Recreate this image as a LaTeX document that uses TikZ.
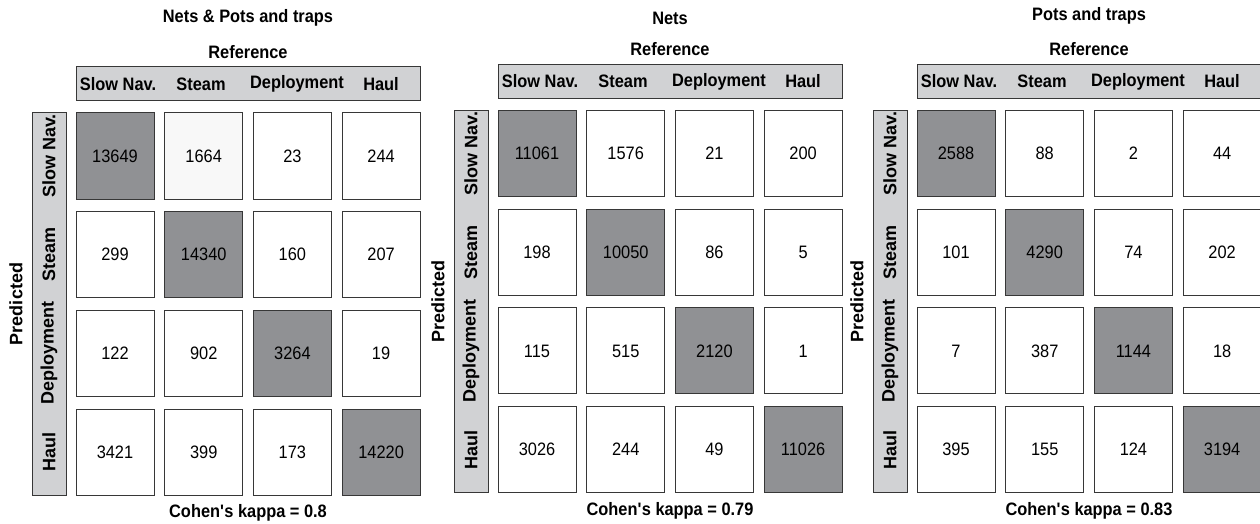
\documentclass[tikz,border=0pt]{standalone}
\usepackage{fontspec}
\setmainfont{Liberation Sans}[FakeStretch=0.91]
\newfontfamily\sidefont{Liberation Sans}
\usetikzlibrary{positioning}

\definecolor{bargrey}{RGB}{209,210,212}
\definecolor{diaggrey}{RGB}{144,145,148}
\definecolor{lightcell}{RGB}{248,248,248}
\definecolor{edgegrey}{RGB}{55,55,55}

\begin{document}
\begin{tikzpicture}[x=1pt,y=-1pt,
  cell/.style={draw=edgegrey,line width=1pt,minimum width=78pt,minimum height=86pt,
    inner sep=0pt,font=\fontsize{18}{18}\selectfont},
  bar/.style={draw=edgegrey,fill=bargrey,line width=1pt,inner sep=0pt},
  lbl/.style={font=\bfseries\fontsize{18}{18}\selectfont},
  sidelbl/.style={font=\sidefont\bfseries\fontsize{18}{18}\selectfont,rotate=90}]

\useasboundingbox (0,0) rectangle (1260,524);

% Nets & Pots and traps
\begin{scope}
  \node[lbl] (p1-title) at (248,18) {Nets \& Pots and traps};
  \node[lbl] (p1-ref) at (248,52) {Reference};
  \node[bar,minimum width=344pt,minimum height=34pt] (p1-head) at (248,84) {};
  \node[bar,minimum width=34pt,minimum height=382pt] (p1-side) at (49,304) {};
  \foreach \i/\x/\t in {0/118/Slow Nav.,1/201/Steam,2/297/Deployment,3/381/Haul}
  {
    \node[lbl] (p1-col\i) at (\x,84) {\t};
    \node[sidelbl] (p1-row\i) at (49,{156+\i*98.7}) {\t};
  }
  \foreach \i/\j/\v/\f in {0/0/13649/diaggrey,1/0/1664/lightcell,2/0/23/white,3/0/244/white,
      0/1/299/white,1/1/14340/diaggrey,2/1/160/white,3/1/207/white,
      0/2/122/white,1/2/902/white,2/2/3264/diaggrey,3/2/19/white,
      0/3/3421/white,1/3/399/white,2/3/173/white,3/3/14220/diaggrey}
    \node[cell,fill=\f] (p1-\j-\i) at ({115+\i*88.7},{156+\j*98.7}) {\v};
  \node[sidelbl] (p1-pred) at (16,304) {Predicted};
  \node[lbl] (p1-kappa) at (248,513) {Cohen\textquotesingle s kappa = 0.8};
\end{scope}

% Nets
\begin{scope}[shift={(422,-2.5)}]
  \node[lbl] (p2-title) at (248,20.5) {Nets};
  \node[lbl] (p2-ref) at (248,52) {Reference};
  \node[bar,minimum width=344pt,minimum height=34pt] (p2-head) at (248,84) {};
  \node[bar,minimum width=34pt,minimum height=382pt] (p2-side) at (49,304) {};
  \foreach \i/\x/\t in {0/118/Slow Nav.,1/201/Steam,2/297/Deployment,3/381/Haul}
  {
    \node[lbl] (p2-col\i) at (\x,84) {\t};
    \node[sidelbl] (p2-row\i) at (49,{156+\i*98.7}) {\t};
  }
  \foreach \i/\j/\v/\f in {0/0/11061/diaggrey,1/0/1576/white,2/0/21/white,3/0/200/white,
      0/1/198/white,1/1/10050/diaggrey,2/1/86/white,3/1/5/white,
      0/2/115/white,1/2/515/white,2/2/2120/diaggrey,3/2/1/white,
      0/3/3026/white,1/3/244/white,2/3/49/white,3/3/11026/diaggrey}
    \node[cell,fill=\f] (p2-\j-\i) at ({115+\i*88.7},{156+\j*98.7}) {\v};
  \node[sidelbl] (p2-pred) at (16,304) {Predicted};
  \node[lbl] (p2-kappa) at (248,513) {Cohen\textquotesingle s kappa = 0.79};
\end{scope}

% Pots and traps
\begin{scope}[shift={(841,-2.5)}]
  \node[lbl] (p3-title) at (248,18.5) {Pots and traps};
  \node[lbl] (p3-ref) at (248,52) {Reference};
  \node[bar,minimum width=344pt,minimum height=34pt] (p3-head) at (248,84) {};
  \node[bar,minimum width=34pt,minimum height=382pt] (p3-side) at (49,304) {};
  \foreach \i/\x/\t in {0/118/Slow Nav.,1/201/Steam,2/297/Deployment,3/381/Haul}
  {
    \node[lbl] (p3-col\i) at (\x,84) {\t};
    \node[sidelbl] (p3-row\i) at (49,{156+\i*98.7}) {\t};
  }
  \foreach \i/\j/\v/\f in {0/0/2588/diaggrey,1/0/88/white,2/0/2/white,3/0/44/white,
      0/1/101/white,1/1/4290/diaggrey,2/1/74/white,3/1/202/white,
      0/2/7/white,1/2/387/white,2/2/1144/diaggrey,3/2/18/white,
      0/3/395/white,1/3/155/white,2/3/124/white,3/3/3194/diaggrey}
    \node[cell,fill=\f] (p3-\j-\i) at ({115+\i*88.7},{156+\j*98.7}) {\v};
  \node[sidelbl] (p3-pred) at (16,304) {Predicted};
  \node[lbl] (p3-kappa) at (248,513) {Cohen\textquotesingle s kappa = 0.83};
\end{scope}

\end{tikzpicture}
\end{document}
